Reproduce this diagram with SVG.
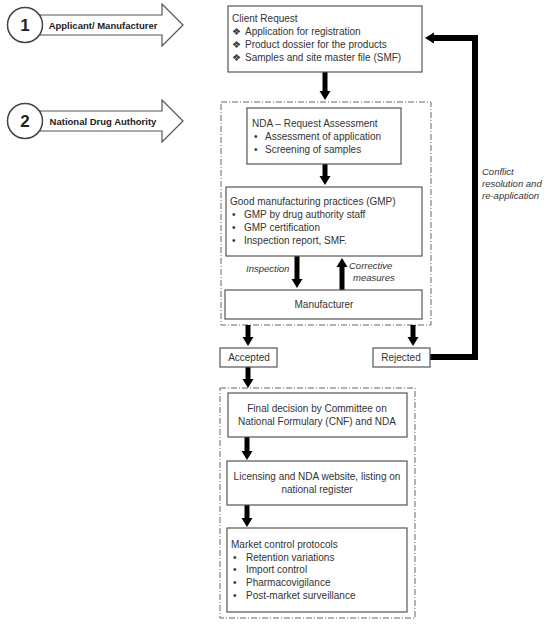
<svg xmlns="http://www.w3.org/2000/svg" width="549" height="627" viewBox="0 0 549 627">
<defs>
<marker id="ah" markerUnits="userSpaceOnUse" markerWidth="12" markerHeight="12" refX="2" refY="6" orient="auto">
<path d="M0,0.5 L9,6 L0,11.5 Z" fill="#000"/>
</marker>
<style>
text{font-family:"Liberation Sans",Arial,sans-serif;font-size:10px;fill:#333}
.box{fill:#fff;stroke:#555;stroke-width:1.2}
.grp{fill:none;stroke:#666;stroke-width:1;stroke-dasharray:6 2 1 2}
.big{fill:#fff;stroke:#555;stroke-width:1.2}
.c{text-anchor:middle}
.it{font-style:italic;font-size:9.5px}
.b{font-weight:bold;fill:#222}
.conn{stroke:#000;stroke-width:5;fill:none;marker-end:url(#ah)}
</style>
</defs>
<rect width="549" height="627" fill="#fff"/>

<g id="step1">
<polygon class="big" points="40,15 162,15 162,4 183,25 162,46 162,35 40,35"/>
<circle cx="25" cy="25" r="17.5" fill="#fff" stroke="#444" stroke-width="1.5"/>
<text x="25" y="31" class="c b" style="font-size:17px">1</text>
<text x="103" y="29" class="c b" style="font-size:9.5px">Applicant/ Manufacturer</text>
</g>
<g id="step2">
<polygon class="big" points="40,111 162,111 162,100 183,121 162,142 162,131 40,131"/>
<circle cx="25" cy="121" r="17.5" fill="#fff" stroke="#444" stroke-width="1.5"/>
<text x="25" y="127" class="c b" style="font-size:17px">2</text>
<text x="103" y="125" class="c b" style="font-size:9.5px">National Drug Authority</text>
</g>

<g id="groupNDA"><rect class="grp" x="221" y="102" width="210" height="223"/></g>
<g id="groupFinal"><rect class="grp" x="220" y="388" width="195" height="230"/></g>

<g id="connectors">
<line class="conn" x1="325" y1="72" x2="325" y2="93"/>
<line class="conn" x1="325" y1="164" x2="325" y2="178"/>
<line class="conn" x1="297" y1="256" x2="297" y2="281"/>
<line class="conn" x1="342" y1="290" x2="342" y2="265"/>
<line class="conn" x1="248" y1="325" x2="248" y2="339"/>
<line class="conn" x1="413" y1="325" x2="413" y2="339"/>
<line class="conn" x1="248" y1="367" x2="248" y2="381"/>
<line class="conn" x1="247" y1="437" x2="247" y2="453"/>
<line class="conn" x1="247" y1="505" x2="247" y2="520"/>
<polyline points="430,357 475,357 475,38 432,38" stroke="#000" stroke-width="6" fill="none" stroke-linejoin="miter" marker-end="url(#ah)"/>
<text x="482" y="175" class="it">Conflict</text>
<text x="482" y="187" class="it">resolution and</text>
<text x="482" y="199" class="it">re-application</text>
<text x="246" y="272" class="it">Inspection</text>
<text x="349" y="269" class="it">Corrective</text>
<text x="353" y="281" class="it">measures</text>
</g>

<g id="clientRequest">
<rect class="box" x="228" y="6" width="194" height="66"/>
<text x="232" y="22">Client Request</text>
<text x="232" y="35">❖</text><text x="245" y="35">Application for registration</text>
<text x="232" y="48">❖</text><text x="245" y="48">Product dossier for the products</text>
<text x="232" y="61">❖</text><text x="245" y="61">Samples and site master file (SMF)</text>
</g>

<g id="ndaAssessment">
<rect class="box" x="247" y="108" width="154" height="56"/>
<text x="252" y="127">NDA – Request Assessment</text>
<text x="254" y="140">•</text><text x="265" y="140">Assessment of application</text>
<text x="254" y="153">•</text><text x="265" y="153">Screening of samples</text>
</g>

<g id="gmp">
<rect class="box" x="226" y="187" width="196" height="69"/>
<text x="230" y="205">Good manufacturing practices (GMP)</text>
<text x="232" y="218">•</text><text x="244" y="218">GMP by drug authority staff</text>
<text x="232" y="231">•</text><text x="244" y="231">GMP certification</text>
<text x="232" y="244">•</text><text x="244" y="244">Inspection report, SMF.</text>
</g>

<g id="manufacturer">
<rect class="box" x="225" y="290" width="197" height="29"/>
<text x="324" y="308" class="c">Manufacturer</text>
</g>

<g id="accepted">
<rect class="box" x="220" y="348" width="57" height="19"/>
<text x="249" y="361" class="c">Accepted</text>
</g>
<g id="rejected">
<rect class="box" x="373" y="348" width="57" height="19"/>
<text x="401" y="361" class="c">Rejected</text>
</g>

<g id="finalDecision">
<rect class="box" x="228" y="393" width="179" height="44"/>
<text x="317" y="412" class="c">Final decision by Committee on</text>
<text x="317" y="425" class="c">National Formulary (CNF) and NDA</text>
</g>

<g id="licensing">
<rect class="box" x="227" y="461" width="180" height="44"/>
<text x="317" y="480" class="c">Licensing and NDA website, listing on</text>
<text x="317" y="493" class="c">national register</text>
</g>

<g id="marketControl">
<rect class="box" x="227" y="528" width="180" height="84"/>
<text x="231" y="548">Market control protocols</text>
<text x="233" y="561">•</text><text x="246" y="561">Retention variations</text>
<text x="233" y="573">•</text><text x="246" y="573">Import control</text>
<text x="233" y="586">•</text><text x="246" y="586">Pharmacovigilance</text>
<text x="233" y="599">•</text><text x="246" y="599">Post-market surveillance</text>
</g>
</svg>
